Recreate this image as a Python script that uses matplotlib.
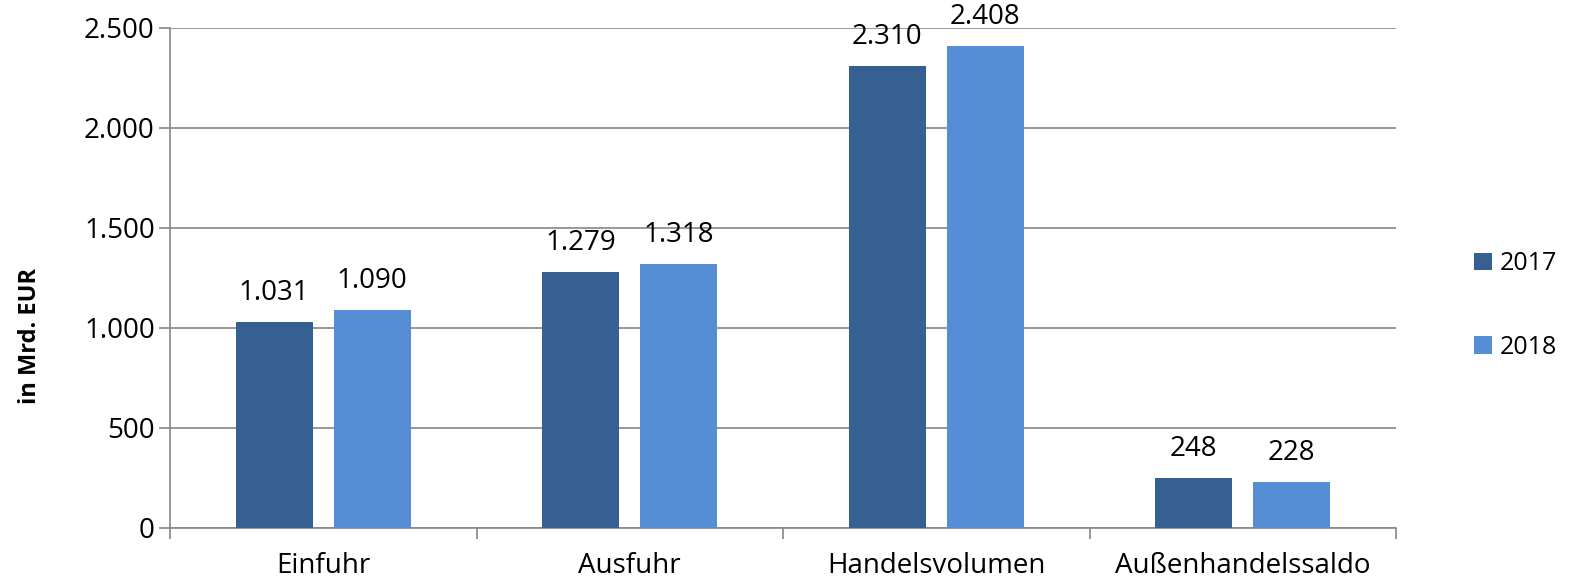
import matplotlib.pyplot as plt
import numpy as np

# Daten (in Mrd. EUR)
categories = ["Einfuhr", "Ausfuhr", "Handelsvolumen", "Außenhandelssaldo"]
years = ["2017", "2018"]
values_2017 = [1031, 1279, 2310, 248]
values_2018 = [1090, 1318, 2408, 228]
yticks = [0, 500, 1000, 1500, 2000, 2500]

plt.rcParams['font.family'] = ['Open Sans', 'DejaVu Sans']

def fmt(v):
    return f"{v:,}".replace(",", ".")

fig = plt.figure(figsize=(15.7, 5.85), dpi=100)
ax = fig.add_axes([170 / 1570, 1 - 528 / 585, 1226 / 1570, 500 / 585])

x = np.arange(len(categories))
w = 0.25
b1 = ax.bar(x - 0.16, values_2017, w, color='#376092', label=years[0], zorder=3)
b2 = ax.bar(x + 0.16, values_2018, w, color='#558ed5', label=years[1], zorder=3)

for bars, vals in ((b1, values_2017), (b2, values_2018)):
    for bar, v in zip(bars, vals):
        ax.annotate(fmt(v), (bar.get_x() + bar.get_width() / 2, v),
                    xytext=(0, 11), textcoords='offset points',
                    ha='center', va='bottom', fontsize=20)

ax.set_xlim(-0.5, 3.5)
ax.set_ylim(0, 2500)
ax.set_yticks(yticks)
ax.set_yticklabels([fmt(t) for t in yticks], fontsize=20)
ax.set_xticks(x)
ax.set_xticklabels(categories, fontsize=20)
ax.set_xticks(np.arange(-0.5, 4, 1), minor=True)
ax.tick_params(axis='x', which='major', length=0, pad=17)
ax.tick_params(axis='x', which='minor', length=8, color='#868686', width=1.2)
ax.tick_params(axis='y', length=8, color='#868686', width=1.2, pad=3)

ax.grid(axis='y', color='#868686', linewidth=1.2, zorder=0)
for s in ('top', 'right'):
    ax.spines[s].set_visible(False)
for s in ('left', 'bottom'):
    ax.spines[s].set_color('#868686')
    ax.spines[s].set_linewidth(1.2)

fig.text(30 / 1570, 1 - 336 / 585, "in Mrd. EUR", rotation=90, fontsize=17,
         fontweight='bold', ha='center', va='center')

ax.legend(loc='center left', bbox_to_anchor=(1.064, 0.445), frameon=False,
          fontsize=18, handlelength=0.7, handleheight=0.7, handletextpad=0.3,
          labelspacing=2.35, borderaxespad=0, borderpad=0)

fig.savefig("out.png")
